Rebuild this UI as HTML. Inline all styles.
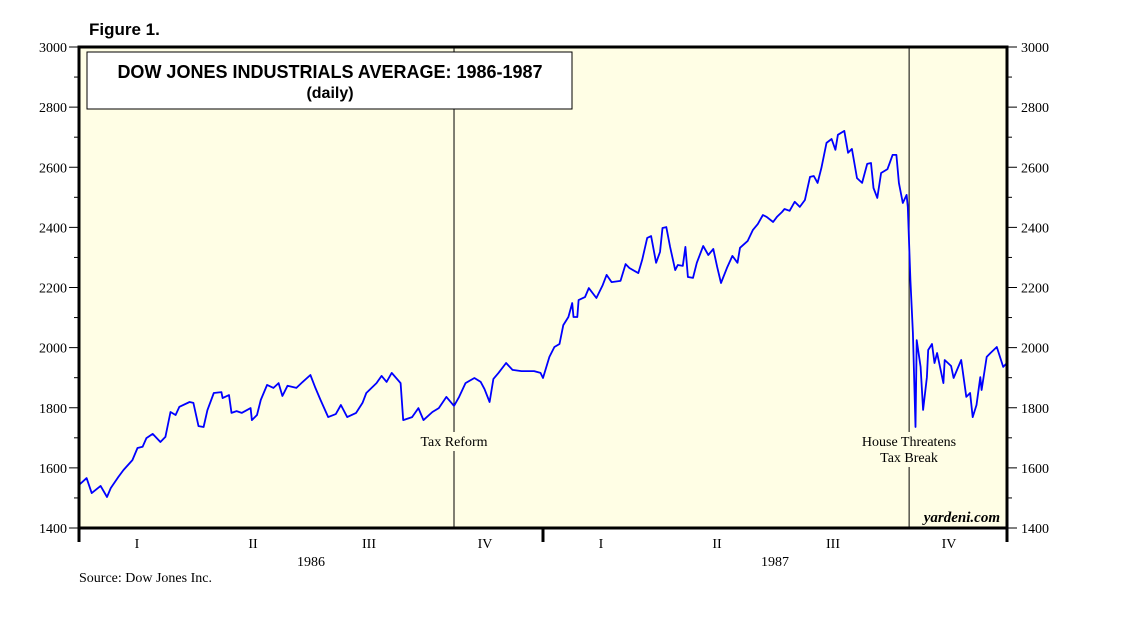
<!DOCTYPE html>
<html><head><meta charset="utf-8"><style>
body{margin:0;background:#fff;}
svg{display:block;font-family:"Liberation Serif",serif;}
</style></head><body>
<svg id="chart" width="1138" height="621" viewBox="0 0 1138 621" xmlns="http://www.w3.org/2000/svg">
<text x="89" y="35" font-family="Liberation Sans, sans-serif" font-weight="bold" font-size="17">Figure 1.</text>
<rect x="79" y="47" width="928" height="481" fill="#FFFEE5"/>
<g id="grid"></g>
<g id="series"></g>
<rect x="87" y="52" width="485" height="57" fill="#fff" stroke="#000" stroke-width="1"/>
<text x="330" y="78" text-anchor="middle" font-family="Liberation Sans, sans-serif" font-weight="bold" font-size="18">DOW JONES INDUSTRIALS AVERAGE: 1986-1987</text>
<text x="330" y="98" text-anchor="middle" font-family="Liberation Sans, sans-serif" font-weight="bold" font-size="16">(daily)</text>
<rect x="79" y="47" width="928" height="481" fill="none" stroke="#000" stroke-width="3"/>
<g id="axes"></g>
<text x="454" y="446" text-anchor="middle" font-size="14">Tax Reform</text>
<text x="909" y="446" text-anchor="middle" font-size="14">House Threatens</text>
<text x="909" y="462" text-anchor="middle" font-size="14">Tax Break</text>
<text x="1000" y="522" text-anchor="end" font-size="15" font-style="italic" font-weight="bold">yardeni.com</text>
<text x="79" y="582" font-size="14">Source: Dow Jones Inc.</text>
</svg>
<script>
// days since 1986-01-01 and DJIA closes
const days = [0,6,10,17,22,25,31,35,42,46,50,53,58,64,68,72,76,79,87,90,94,98,101,106,112,113,118,120,124,128,135,136,140,143,148,153,157,160,164,171,176,182,186,190,196,202,206,211,218,223,226,234,238,242,246,253,255,262,267,271,278,283,289,295,299,304,311,316,319,323,326,330,336,341,348,358,363,365,370,374,378,381,385,388,389,392,393,398,401,407,412,415,419,426,430,433,440,443,447,450,454,457,459,462,465,469,471,475,477,479,483,486,491,495,499,502,505,510,514,518,520,526,530,534,538,541,546,549,553,555,559,563,567,571,575,578,581,584,588,592,595,597,602,605,608,612,616,620,623,625,628,631,636,640,643,645,648,651,652,654,656,658,659,662,664,667,668,671,673,675,680,681,686,688,694,698,701,703,706,709,710,714,717,722,727,730];
const values = [1543,1566,1516,1540,1503,1533,1570,1593,1626,1666,1670,1699,1713,1686,1703,1786,1776,1803,1819,1816,1739,1736,1792,1849,1852,1832,1842,1783,1789,1783,1799,1759,1776,1826,1876,1866,1882,1839,1873,1866,1886,1909,1866,1826,1769,1779,1809,1769,1783,1816,1849,1882,1906,1886,1916,1882,1759,1769,1799,1759,1786,1799,1836,1806,1836,1882,1899,1886,1862,1819,1896,1916,1949,1926,1922,1922,1916,1899,1969,2002,2012,2075,2102,2148,2102,2102,2158,2168,2198,2165,2208,2242,2218,2222,2278,2265,2248,2292,2365,2371,2282,2318,2398,2401,2335,2258,2275,2272,2335,2235,2232,2282,2338,2308,2328,2268,2215,2268,2305,2282,2332,2355,2391,2411,2441,2435,2418,2435,2451,2461,2455,2485,2468,2491,2568,2571,2548,2598,2681,2694,2658,2708,2721,2648,2661,2564,2548,2611,2614,2531,2498,2581,2594,2641,2641,2548,2481,2508,2468,2225,2049,1736,2025,1936,1793,1902,1992,2012,1949,1982,1882,1959,1939,1899,1959,1836,1849,1769,1809,1902,1859,1969,1982,2002,1936,1949];
const yTicks = [1400,1600,1800,2000,2200,2400,2600,2800,3000];
const quarterLabels = ["I","II","III","IV","I","II","III","IV"];
const yearLabels = ["1986","1987"];
const eventDays = [295,653];

const NS="http://www.w3.org/2000/svg";
const X0=79,X1=1007,Y0=528,Y1=47,TOTAL=730,VMIN=1400,VMAX=3000;
const xs=d=>X0+(d/TOTAL)*(X1-X0);
const ys=v=>Y0-(v-VMIN)/(VMAX-VMIN)*(Y0-Y1);
function mk(tag,attrs,parent){const e=document.createElementNS(NS,tag);for(const k in attrs)e.setAttribute(k,attrs[k]);parent.appendChild(e);return e;}
const axes=document.getElementById('axes'),grid=document.getElementById('grid'),ser=document.getElementById('series');

eventDays.forEach((d,i)=>{
  const x=xs(d);
  const gapEnd = i===0?451:467;
  const l1=mk('line',{x1:x,x2:x,y1:Y1,y2:432,stroke:'#000','stroke-width':1},grid);
  
  
  const l2=mk('line',{x1:x,x2:x,y1:gapEnd,y2:Y0,stroke:'#000','stroke-width':1},grid);
  
  
});

const pts=days.map((d,i)=>xs(d).toFixed(1)+','+ys(values[i]).toFixed(1)).join(' ');
const pl=mk('polyline',{points:pts,fill:'none',stroke:'#0000FF','stroke-width':1.8,'stroke-linejoin':'round'},ser);



for(let v=VMIN;v<=VMAX;v+=100){
  const major=yTicks.includes(v);const y=ys(v);const len=major?10:5;
  [[X0-len,X0],[X1,X1+len]].forEach(([a,b])=>{
    const t=mk('line',{x1:a,x2:b,y1:y,y2:y,stroke:'#000','stroke-width':1},axes);
    
    
  });
}
yTicks.forEach(v=>{
  const y=ys(v)+5;
  const a=mk('text',{x:X0-12,y:y,'text-anchor':'end','font-size':14},axes);a.textContent=v;
  
  
  const b=mk('text',{x:X1+14,y:y,'font-size':14},axes);b.textContent=v;
  
  
});
[0,365,730].forEach(d=>{
  const t=mk('line',{x1:xs(d),x2:xs(d),y1:Y0,y2:542,stroke:'#000','stroke-width':3},axes);
  
  
});
quarterLabels.forEach((q,i)=>{
  const x=xs((i+0.5)*TOTAL/8);
  const t=mk('text',{x:x,y:548,'text-anchor':'middle','font-size':14},axes);t.textContent=q;
  
  
});
yearLabels.forEach((yl,i)=>{
  const x=xs((i+0.5)*TOTAL/2);
  const t=mk('text',{x:x,y:566,'text-anchor':'middle','font-size':14},axes);t.textContent=yl;
  
  
});
</script>
</body></html>
